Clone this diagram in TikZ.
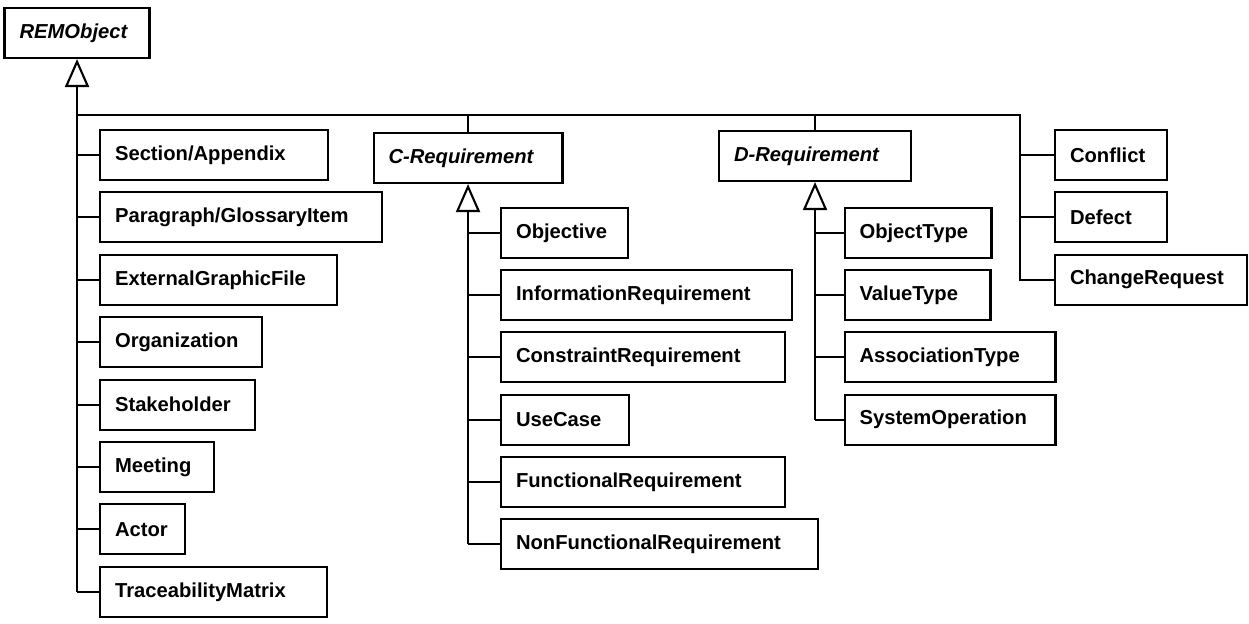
\documentclass[tikz,border=0pt]{standalone}
\usepackage{fontspec}
\setmainfont{Liberation Sans}
\usetikzlibrary{arrows.meta}

\tikzset{
    cls/.style={draw, rectangle, line width=1.2pt, minimum height=1cm, inner xsep=0.3cm,
        text width=#1, align=left, anchor=west, font=\bfseries\fontsize{11.5}{13.8}\selectfont},
    abscls/.style={cls=#1, font=\bfseries\itshape\fontsize{11.5}{13.8}\selectfont},
    gen/.style={-{Triangle[open, length=0.56cm, width=0.48cm]}},
    wire/.style={line width=1.2pt}
}

\begin{document}
\begin{tikzpicture}[x=0.02cm, y=-0.02cm, every path/.style={wire}]

    \useasboundingbox (0,0) rectangle (1249,624);

    % Root class
    \node[abscls=2.30cm] (rem) at (3.5, 33) {REMObject};
    % Bus line below the root
    \coordinate (busl) at (76, 115);
    \coordinate (busr) at (1020, 115);

    % Left column: direct subclasses of the root
    \node[cls=3.96cm] (sec) at (99, 155.0) {Section/Appendix};
    \node[cls=5.04cm] (par) at (99, 217.4) {Paragraph/GlossaryItem};
    \node[cls=4.14cm] (ext) at (99, 279.8) {ExternalGraphicFile};
    \node[cls=2.64cm] (org) at (99, 342.2) {Organization};
    \node[cls=2.50cm] (stk) at (99, 404.6) {Stakeholder};
    \node[cls=1.68cm] (mtg) at (99, 467.0) {Meeting};
    \node[cls=1.10cm] (act) at (99, 529.4) {Actor};
    \node[cls=3.94cm] (trm) at (99, 591.8) {TraceabilityMatrix};
    % Draw trunk with generalization triangle up to the root
    \draw[gen] (rem.south |- trm.west) -- (rem.south);
    \foreach \c in {sec, par, ext, org, stk, mtg, act, trm}
        \draw (\c.west) -- (\c.west -| rem.south);

    % C-Requirement and its subclasses
    \node[abscls=3.18cm] (creq) at (372.5, 158) {C-Requirement};
    \node[cls=1.94cm] (obj) at (500, 233.0) {Objective};
    \node[cls=5.22cm] (inf) at (500, 295.2) {InformationRequirement};
    \node[cls=5.08cm] (con) at (500, 357.4) {ConstraintRequirement};
    \node[cls=1.96cm] (usc) at (500, 419.6) {UseCase};
    \node[cls=5.08cm] (fun) at (500, 481.8) {FunctionalRequirement};
    \node[cls=5.74cm] (nfr) at (500, 544.0) {NonFunctionalRequirement};
    % Draw trunk with generalization triangle up to C-Requirement
    \draw[gen] (creq.south |- nfr.west) -- (creq.south);
    \foreach \c in {obj, inf, con, usc, fun, nfr}
        \draw (\c.west) -- (\c.west -| creq.south);

    % D-Requirement and its subclasses
    \node[abscls=3.24cm] (dreq) at (718, 156) {D-Requirement};
    \node[cls=2.34cm] (oty) at (843.5, 233.0) {ObjectType};
    \node[cls=2.32cm] (vty) at (843.5, 295.2) {ValueType};
    \node[cls=3.62cm] (aty) at (843.5, 357.4) {AssociationType};
    \node[cls=3.62cm] (sop) at (843.5, 419.6) {SystemOperation};
    % Draw trunk with generalization triangle up to D-Requirement
    \draw[gen] (dreq.south |- sop.west) -- (dreq.south);
    \foreach \c in {oty, vty, aty, sop}
        \draw (\c.west) -- (\c.west -| dreq.south);

    % Right column hanging off the bus
    \node[cls=1.64cm] (cfl) at (1054, 155.0) {Conflict};
    \node[cls=1.64cm] (dft) at (1054, 217.4) {Defect};
    \node[cls=3.24cm] (chg) at (1054, 279.8) {ChangeRequest};

    % Draw bus and stems to the abstract subclasses
    \draw (busl) -- (busr) -- (busr |- chg.west) -- (chg.west);
    \draw (cfl.west) -- (cfl.west -| busr);
    \draw (dft.west) -- (dft.west -| busr);
    \draw (creq.north) -- (creq.north |- busl);
    \draw (dreq.north) -- (dreq.north |- busl);

\end{tikzpicture}
\end{document}
